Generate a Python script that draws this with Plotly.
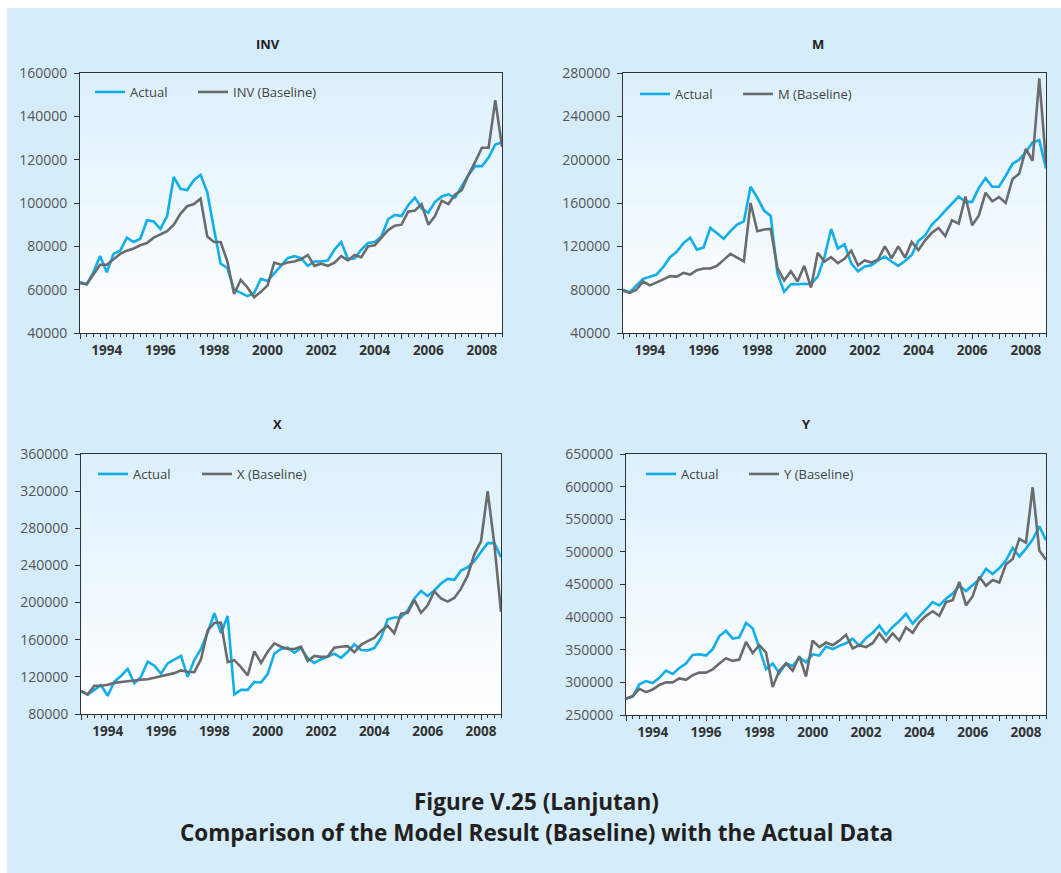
import plotly.graph_objects as go

W, H = 1061, 873

# ---------------- data (quarterly, 1993Q1 .. 2008Q4) ----------------
start_year = 1993
n_quarters = 64
quarters = [start_year + q / 4 for q in range(n_quarters)]

year_ticks = list(range(1993, 2009))
year_labels = ["" if y % 2 else str(y) for y in year_ticks]

inv_actual = [63500, 62500, 68000, 75500, 68000, 76500, 78000, 84000,
              82000, 83500, 92000, 91500, 88000, 94000, 112000, 106500,
              106000, 110500, 113000, 105000, 88000, 72000, 70000, 60000,
              58500, 57000, 58500, 65000, 64000, 67500, 71000, 74500,
              75500, 74500, 71000, 73000, 73000, 73500, 78500, 82000,
              74000, 74500, 78500, 81500, 82000, 84500, 92500, 94500,
              94000, 99000, 102500, 97500, 95500, 100500, 103000, 104000,
              102500, 107500, 113000, 117000, 117000, 121000, 127000, 128000]
inv_base = [63000, 62500, 67000, 71500, 71500, 74000, 76500, 78000,
            79000, 80500, 81500, 84000, 85500, 87000, 90000, 95000,
            98500, 99500, 102000, 84500, 82000, 82000, 73000, 58000,
            64500, 61000, 56500, 59000, 62000, 72500, 71500, 72500,
            73000, 74000, 76000, 71000, 72000, 71000, 72500, 75500,
            73500, 76000, 75000, 80000, 80500, 84000, 87500, 89500,
            90000, 96000, 96500, 99500, 90000, 94000, 101000, 99500,
            104000, 106000, 113000, 119000, 125500, 125500, 147500, 126000]

m_actual = [80000, 77500, 84000, 90000, 92000, 94000, 101000, 110000,
            115000, 123000, 128000, 117000, 119000, 137000, 132000, 127000,
            134000, 140000, 143000, 175000, 165000, 153000, 148000, 95000,
            78000, 85000, 85000, 85500, 85000, 92000, 110000, 136000,
            118000, 122000, 104000, 97000, 101500, 102500, 107000, 110500,
            106000, 102000, 106500, 112000, 125000, 130000, 140000, 146000,
            153000, 160000, 166000, 161000, 161000, 174000, 183000, 175000,
            175000, 185000, 196000, 200000, 207000, 216000, 218000, 192000]
m_base = [79000, 77000, 80000, 87500, 84000, 86500, 89500, 92500,
          92000, 95500, 94000, 98000, 99500, 99500, 102000, 107500,
          113000, 109500, 106000, 160000, 134000, 135500, 136000, 100000,
          88500, 97000, 87500, 102000, 82000, 114000, 106000, 110000,
          104500, 108500, 116000, 102500, 107000, 105000, 108000, 120000,
          109000, 120000, 109500, 124000, 116500, 125500, 132500, 137000,
          129500, 144000, 141000, 166000, 139500, 148500, 169500, 161500,
          165500, 160000, 182000, 187000, 210000, 199000, 275000, 197000]

x_actual = [104000, 101000, 106000, 111000, 99500, 115000, 121000, 128500,
            113000, 120000, 136500, 132000, 123500, 134500, 138500, 142500,
            120000, 138000, 150000, 168000, 188500, 167000, 185500, 101000,
            106000, 106000, 114500, 114000, 123000, 145000, 150000, 151500,
            146000, 151000, 140000, 135000, 139000, 141500, 145000, 140500,
            147000, 155000, 149000, 148500, 151000, 162000, 182000, 184000,
            184000, 191500, 204500, 212500, 207000, 213000, 220500, 225500,
            224500, 234500, 238000, 244500, 254500, 264000, 264000, 249000]
x_base = [105000, 101000, 110500, 110500, 111500, 113500, 114500, 115000,
          116000, 117000, 117500, 119000, 120500, 122000, 124000, 127000,
          125500, 125000, 139000, 170000, 178000, 178500, 136000, 138000,
          130500, 121500, 147500, 135000, 147000, 156000, 152500, 150000,
          150000, 152500, 137000, 142500, 141500, 142000, 151500, 152500,
          153000, 146500, 154500, 158500, 162000, 169500, 175000, 167000,
          188000, 189000, 203000, 189000, 197000, 212000, 204500, 201000,
          205000, 215000, 229000, 252000, 266000, 320000, 263000, 190000]

y_actual = [275000, 278000, 297000, 302000, 299000, 307000, 318000, 313000,
            322000, 329000, 342000, 343000, 341000, 351000, 371000, 379000,
            367000, 369000, 391000, 383000, 352000, 320000, 329000, 314000,
            329000, 325000, 338000, 331000, 343000, 341000, 355000, 351000,
            356000, 360000, 367000, 356000, 368000, 376000, 387000, 373000,
            385000, 394000, 405000, 390000, 401000, 412000, 423000, 418000,
            428000, 436000, 448000, 440000, 449000, 458000, 474000, 466000,
            475000, 487000, 506000, 493000, 505000, 519000, 539000, 518000]
y_base = [275000, 279000, 290000, 285000, 289000, 296000, 300000, 300000,
          306000, 304000, 311000, 315000, 315000, 320000, 329000, 337000,
          333000, 335000, 362000, 345000, 357000, 346000, 293000, 318000,
          329000, 318000, 340000, 309000, 364000, 354000, 361000, 357000,
          364000, 373000, 352000, 357000, 354000, 360000, 375000, 362000,
          375000, 364000, 384000, 376000, 392000, 402000, 409000, 402000,
          423000, 426000, 454000, 418000, 432000, 462000, 448000, 457000,
          453000, 481000, 489000, 520000, 514000, 599000, 502000, 488000]

panel_names = ["INV", "M", "X", "Y"]
baseline_labels = ["INV (Baseline)", "M (Baseline)", "X (Baseline)", "Y (Baseline)"]
actual_series = [inv_actual, m_actual, x_actual, y_actual]
base_series = [inv_base, m_base, x_base, y_base]
y_ranges = [(40000, 160000), (40000, 280000), (80000, 360000), (250000, 650000)]
y_dticks = [20000, 40000, 40000, 50000]

fig_title_1 = "Figure V.25 (Lanjutan)"
fig_title_2 = "Comparison of the Model Result (Baseline) with the Actual Data"

# ---------------- styling / layout (pixel geometry) ----------------
ACTUAL_C = "#10aeea"
BASE_C = "#6b6b6e"
BG = "#d5ecfa"
FONT = "Open Sans"

# plot-area boxes in pixels: (left, right, top, bottom)
boxes = [(80, 502, 73, 333), (623, 1046, 73, 333),
         (81, 501, 454, 714), (626, 1046, 454, 715)]
title_pos = [(268, 44), (818, 44), (277, 424), (806, 424)]
# legend symbol start x and centre y: (actual_x, baseline_x, y)
legend_pos = [(96, 199, 92), (641, 744, 94), (99, 203, 474), (647, 750, 474)]
LEG_DX = 6  # offset of symbol start inside a legend box

def px(x):
    return x / W

def py(y):
    return 1 - y / H

fig = go.Figure()
layout = dict(
    autosize=True,
    margin=dict(l=0, r=0, t=0, b=0, autoexpand=False),
    paper_bgcolor=BG, plot_bgcolor="white",
    font=dict(family=FONT, size=13, color="#444"),
    showlegend=True,
)
shapes = []
annotations = []

leg_idx = 0
for i in range(4):
    n = i + 1
    xa = "x" if n == 1 else f"x{n}"
    ya = "y" if n == 1 else f"y{n}"
    ax_x, bx_x, ly = legend_pos[i]
    legs = []
    for sx in (ax_x, bx_x):
        leg_idx += 1
        lname = "legend" if leg_idx == 1 else f"legend{leg_idx}"
        legs.append(lname)
        layout[lname] = dict(x=px(sx - LEG_DX), y=py(ly), xanchor="left", yanchor="middle",
                             orientation="h", bgcolor="rgba(0,0,0,0)",
                             font=dict(family=FONT, size=13, color="#444"))
    fig.add_trace(go.Scatter(x=quarters, y=actual_series[i], mode="lines",
                             name="Actual", line=dict(color=ACTUAL_C, width=2.6),
                             xaxis=xa, yaxis=ya, legend=legs[0]))
    fig.add_trace(go.Scatter(x=quarters, y=base_series[i], mode="lines",
                             name=baseline_labels[i], line=dict(color=BASE_C, width=2.6),
                             xaxis=xa, yaxis=ya, legend=legs[1]))
    l, r, t, b = boxes[i]
    axis_common = dict(showline=True, linecolor="#333", linewidth=1, mirror=True,
                       showgrid=False, zeroline=False, ticks="outside",
                       tickcolor="#333", tickwidth=1)
    layout["xaxis" if n == 1 else f"xaxis{n}"] = dict(
        axis_common, domain=[px(l), px(r)], anchor=ya,
        range=[start_year, quarters[-1]],
        tickmode="array", tickvals=year_ticks, ticktext=year_labels, ticklen=5,
        tickfont=dict(family=FONT, size=13.5, color="#333", weight="bold"),
        minor=dict(dtick=0.25, tick0=1993, ticks="outside", ticklen=3,
                   tickcolor="#333", tickwidth=1),
    )
    layout["yaxis" if n == 1 else f"yaxis{n}"] = dict(
        axis_common, domain=[py(b), py(t)], anchor=xa,
        range=list(y_ranges[i]), dtick=y_dticks[i], tick0=0, ticklen=5,
        ticklabelstandoff=4,
        tickformat="d", tickfont=dict(family=FONT, size=14, color="#555"),
    )
    # gradient plot-area background
    N = 30
    top_c = (219, 240, 252)
    bot_c = (255, 255, 255)
    for k in range(N):
        f = (k + 0.5) / N
        c = tuple(int(round(bot_c[j] + (top_c[j] - bot_c[j]) * f)) for j in range(3))
        shapes.append(dict(type="rect", xref=f"{xa} domain", yref=f"{ya} domain",
                           x0=0, x1=1, y0=k / N, y1=(k + 1) / N + 0.002,
                           fillcolor=f"rgb{c}", line=dict(width=0), layer="below"))
    tx, ty = title_pos[i]
    annotations.append(dict(text=f"<b>{panel_names[i]}</b>", x=px(tx), y=py(ty),
                            xref="paper", yref="paper", showarrow=False,
                            xanchor="center", yanchor="middle",
                            font=dict(family=FONT, size=13, color="#222")))

# white strips at top and left edge of the picture
shapes.append(dict(type="rect", xref="paper", yref="paper", x0=0, x1=1,
                   y0=py(8), y1=1, fillcolor="white", line=dict(width=0), layer="above"))
shapes.append(dict(type="rect", xref="paper", yref="paper", x0=0, x1=px(7),
                   y0=0, y1=1, fillcolor="white", line=dict(width=0), layer="above"))

annotations.append(dict(text=f"<b>{fig_title_1}</b>", x=px(536), y=py(801),
                        xref="paper", yref="paper", showarrow=False,
                        xanchor="center", yanchor="middle",
                        font=dict(family=FONT, size=22.5, color="#231f20")))
annotations.append(dict(text=f"<b>{fig_title_2}</b>", x=px(536), y=py(832),
                        xref="paper", yref="paper", showarrow=False,
                        xanchor="center", yanchor="middle",
                        font=dict(family=FONT, size=22.5, color="#231f20")))

layout["shapes"] = shapes
layout["annotations"] = annotations
fig.update_layout(**layout)
fig.write_html("out.html",
               config={"displayModeBar": False, "responsive": True},
               default_width="100vw", default_height="100vh",
               post_script="document.documentElement.style.margin='0';"
                           "document.body.style.margin='0';"
                           "document.body.style.padding='0';"
                           "document.body.style.overflow='hidden';"
                           "Plotly.Plots.resize(document.getElementById('{plot_id}'));")
